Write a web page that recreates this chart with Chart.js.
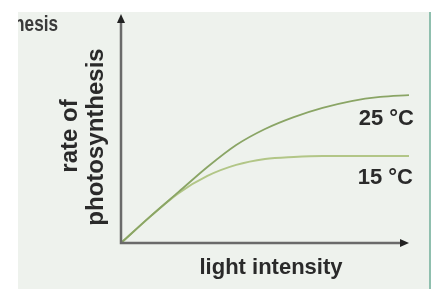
<!DOCTYPE html>
<html>
<head>
<meta charset="utf-8">
<script src="https://cdn.jsdelivr.net/npm/chart.js@4.4.1/dist/chart.umd.min.js"></script>
<style>
  html, body { margin: 0; padding: 0; background: #fff; }
  canvas { display: block; }
</style>
</head>
<body>
<canvas id="chart" width="436" height="289"></canvas>
<script>
// light intensity (arbitrary units)
const lightLevels = [0, 1, 2, 3, 4, 5, 6, 7, 8, 9, 10];
// rate of photosynthesis (arbitrary units)
const rate25 = [0, 1.14, 2.23, 3.32, 4.28, 4.98, 5.5, 5.9, 6.2, 6.38, 6.46];
const rate15 = [0, 1.14, 2.18, 2.93, 3.41, 3.67, 3.76, 3.8, 3.8, 3.8, 3.8];
const seriesLabels = ['25 °C', '15 °C'];
const xTitle = 'light intensity';
const yTitle = ['rate of', 'photosynthesis'];

const FONT = 'bold 22px "Liberation Sans", Arial, sans-serif';
const TEXT = '#2a2a2a';

const pageBg = {
    id: 'pageBg',
    beforeDraw(chart) {
        const ctx = chart.ctx;
        ctx.save();
        ctx.fillStyle = '#ffffff';
        ctx.fillRect(0, 0, chart.width, chart.height);
        ctx.fillStyle = '#eef2ed';
        ctx.fillRect(18, 12, 411, chart.height - 12);
        ctx.fillStyle = '#8fbfae';
        ctx.fillRect(429, 12, 2, chart.height - 12);
        ctx.restore();
    }
};

// axes with arrow heads and the text labels
const axesAndLabels = {
    id: 'axesAndLabels',
    afterDatasetsDraw(chart) {
        const ctx = chart.ctx;
        const x = chart.scales.x, y = chart.scales.y;
        const ox = x.getPixelForValue(0), oy = y.getPixelForValue(0);
        const xEnd = x.getPixelForValue(10), yEnd = y.getPixelForValue(10);
        ctx.save();
        ctx.strokeStyle = '#6a6a6a';
        ctx.lineWidth = 2.5;
        ctx.beginPath();
        ctx.moveTo(ox, yEnd + 6);
        ctx.lineTo(ox, oy);
        ctx.lineTo(xEnd - 6, oy);
        ctx.stroke();
        ctx.fillStyle = '#222';
        ctx.beginPath();
        ctx.moveTo(ox, yEnd);
        ctx.lineTo(ox - 4, yEnd + 9);
        ctx.lineTo(ox + 4, yEnd + 9);
        ctx.closePath();
        ctx.fill();
        ctx.beginPath();
        ctx.moveTo(xEnd, oy);
        ctx.lineTo(xEnd - 9, oy - 4);
        ctx.lineTo(xEnd - 9, oy + 4);
        ctx.closePath();
        ctx.fill();

        ctx.fillStyle = TEXT;
        ctx.font = FONT;
        ctx.textBaseline = 'alphabetic';

        // series labels
        ctx.textAlign = 'right';
        ctx.fillText(seriesLabels[0], 414, 125);
        ctx.fillText(seriesLabels[1], 413, 184);

        // x title
        ctx.textAlign = 'center';
        ctx.fillText(xTitle, 271, 274);

        // y title (rotated)
        ctx.font = 'bold 24px "Liberation Sans", Arial, sans-serif';
        ctx.save();
        ctx.translate(77, 136);
        ctx.rotate(-Math.PI / 2);
        ctx.fillText(yTitle[0], 0, 0);
        ctx.restore();
        ctx.save();
        ctx.translate(103, 137);
        ctx.rotate(-Math.PI / 2);
        ctx.fillText(yTitle[1], 0, 0);
        ctx.restore();

        // cut-off word in the top-left corner (narrower glyphs)
        ctx.save();
        ctx.beginPath();
        ctx.rect(18, 12, 200, 40);
        ctx.clip();
        ctx.translate(58, 31);
        ctx.scale(0.78, 1);
        ctx.textAlign = 'right';
        ctx.font = 'bold 22px "Liberation Sans", Arial, sans-serif';
        ctx.fillStyle = '#3a3a3a';
        ctx.fillText(yTitle[1], 0, 0);
        ctx.restore();

        ctx.restore();
    }
};

new Chart(document.getElementById('chart'), {
    type: 'line',
    data: {
        labels: lightLevels,
        datasets: [
            {
                label: seriesLabels[0],
                data: lightLevels.map((v, i) => ({ x: v, y: rate25[i] })),
                borderColor: '#8aa565',
                borderWidth: 1.8,
                pointRadius: 0,
                cubicInterpolationMode: 'monotone',
                fill: false
            },
            {
                label: seriesLabels[1],
                data: lightLevels.map((v, i) => ({ x: v, y: rate15[i] })),
                borderColor: '#b2c687',
                borderWidth: 2,
                pointRadius: 0,
                cubicInterpolationMode: 'monotone',
                fill: false
            }
        ]
    },
    options: {
        responsive: false,
        animation: false,
        layout: { padding: { left: 121, right: 27, top: 14, bottom: 46 } },
        scales: {
            x: { type: 'linear', min: 0, max: 10, display: false },
            y: { min: 0, max: 10, display: false }
        },
        plugins: {
            legend: { display: false },
            tooltip: { enabled: false }
        }
    },
    plugins: [pageBg, axesAndLabels]
});
</script>
</body>
</html>
